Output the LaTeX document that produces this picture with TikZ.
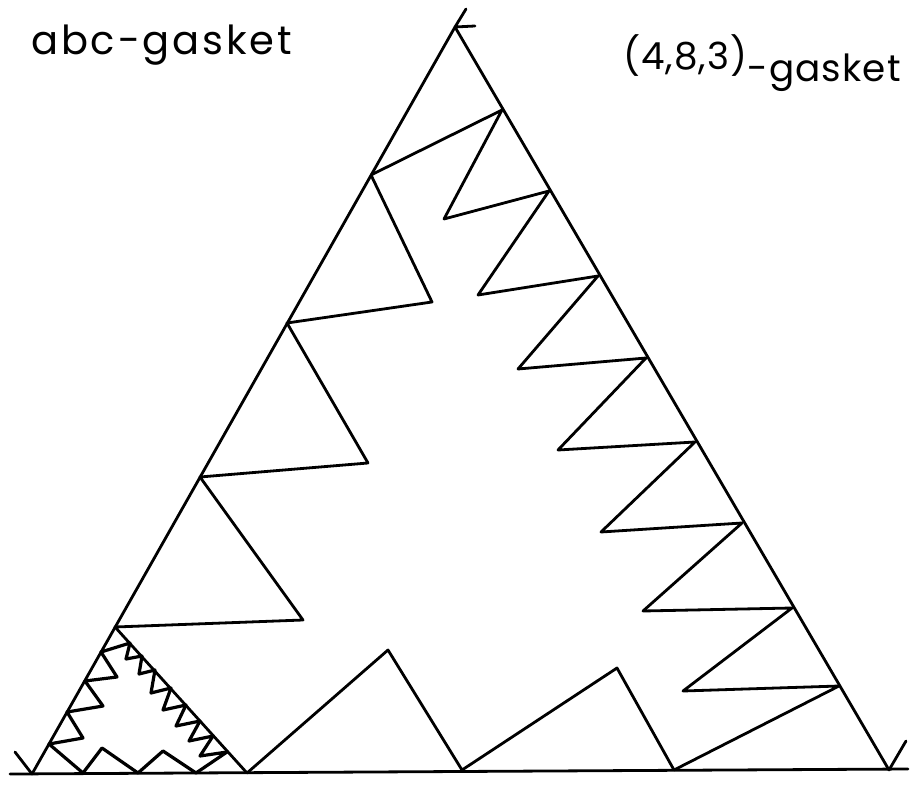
\documentclass[tikz,border=0pt]{standalone}
\usepackage{fontspec}
\newfontfamily\handfont[LetterSpace=7]{Poppins}
\newfontfamily\handfontb[LetterSpace=3]{Poppins}
\begin{document}
\begin{tikzpicture}[x=0.75pt,y=-0.75pt,
  edge/.style={line width=2.1pt,line cap=round,line join=round},
  zig/.style={line width=2.1pt,line cap=round,line join=round},
  zigs/.style={line width=2.4pt,line cap=round,line join=round},
  label/.style={font=\handfont\fontsize{30}{34}\selectfont,inner sep=0pt},
  labelb/.style={font=\handfontb\fontsize{28}{32}\selectfont,inner sep=0pt}]
\useasboundingbox (0,0) rectangle (912,787);
% main triangle
\coordinate (BL) at (32,774);
\coordinate (TOP) at (455,27);
\coordinate (BR) at (889,770);
\coordinate (BLE) at (10,774);
\coordinate (BRE) at (908,769);
\coordinate (TBL) at (15,752);
\coordinate (TT1) at (466,9);
\coordinate (TT2) at (475,26);
\coordinate (TBR) at (906,741);
% left edge points
\coordinate (L4) at (115,627);
\coordinate (L3) at (200,477);
\coordinate (L2) at (287,323);
\coordinate (A1) at (371,175);
% right edge points
\coordinate (R1) at (502,110);
\coordinate (R2) at (549,191);
\coordinate (R3) at (598,276);
\coordinate (R4) at (646,358);
\coordinate (R5) at (695,442);
\coordinate (R6) at (742,523);
\coordinate (R7) at (792,608);
\coordinate (R8) at (839,686);
% inner points
\coordinate (I1) at (444,219);
\coordinate (I2) at (478,295);
\coordinate (I3) at (518,369);
\coordinate (I4) at (558,450);
\coordinate (I5) at (601,532);
\coordinate (I6) at (643,611);
\coordinate (I7) at (683,691);
\coordinate (J1) at (432,302);
\coordinate (J2) at (368,463);
\coordinate (J3) at (303,620);
% bottom
\coordinate (B1) at (674,770);
\coordinate (P2) at (617,668);
\coordinate (M) at (462,770);
\coordinate (P1) at (388,650);
\coordinate (B0) at (247,773);
% small gasket
\coordinate (sL1) at (101,652);
\coordinate (sIL1) at (117,677);
\coordinate (sL2) at (85,681);
\coordinate (sIL2) at (103,706);
\coordinate (sL3) at (67,712);
\coordinate (sIL3) at (83,738);
\coordinate (sL4) at (49,744);
\coordinate (sB0) at (83,773);
\coordinate (sQ1) at (102,748);
\coordinate (sM) at (138,773);
\coordinate (sQ2) at (163,751);
\coordinate (sB1) at (196,773);
\coordinate (sR8) at (227,752);
\coordinate (sI7) at (200,756);
\coordinate (sR7) at (213,736);
\coordinate (sI6) at (189,741);
\coordinate (sR6) at (200,721);
\coordinate (sI5) at (176,726);
\coordinate (sR5) at (186,705);
\coordinate (sI4) at (163,710);
\coordinate (sR4) at (171,688);
\coordinate (sI3) at (151,693);
\coordinate (sR3) at (155,670);
\coordinate (sI2) at (139,674);
\coordinate (sR2) at (142,656);
\coordinate (sI1) at (126,659);
\coordinate (sR1) at (130,643);

% main triangle and ticks
\draw[edge] (BL) -- (TOP) -- (BR);
\draw[edge] (BLE) -- (BRE);
\draw[edge] (TBL) -- (BL);
\draw[edge] (TT1) -- (TOP) -- (TT2);
\draw[edge] (BR) -- (TBR);

% big zigzag
\draw[zig] (L4) -- (J3) -- (L3) -- (J2) -- (L2) -- (J1) -- (A1) -- (R1)
  -- (I1) -- (R2) -- (I2) -- (R3) -- (I3) -- (R4) -- (I4) -- (R5)
  -- (I5) -- (R6) -- (I6) -- (R7) -- (I7) -- (R8) -- (B1) -- (P2)
  -- (M) -- (P1) -- (B0) -- cycle;

% small zigzag
\draw[zigs] (sL1) -- (sIL1) -- (sL2) -- (sIL2) -- (sL3) -- (sIL3) -- (sL4)
  -- (sB0) -- (sQ1) -- (sM) -- (sQ2) -- (sB1) -- (sR8) -- (sI7) -- (sR7)
  -- (sI6) -- (sR6) -- (sI5) -- (sR5) -- (sI4) -- (sR4) -- (sI3) -- (sR3)
  -- (sI2) -- (sR2) -- (sI1) -- (sR1) -- cycle;

% labels
\node[label,anchor=base west] (tabc) at (31,55) {abc-gasket};
\node[labelb,anchor=base east] (tnum) at (901,82) {\raisebox{9pt}{(4,8,3)}-gasket};
\end{tikzpicture}
\end{document}
